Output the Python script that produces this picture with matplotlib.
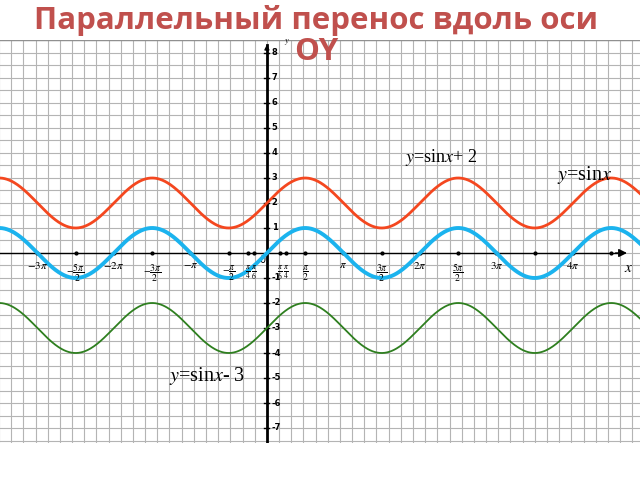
import numpy as np
import matplotlib
matplotlib.use('Agg')
import matplotlib.pyplot as plt

# vertical shifts of y = sin x
shifts = [2, 0, -3]
colors = ['#F4471F', '#1BB3EE', '#2E7F1F']
widths = [2.0, 2.8, 1.3]
curve_labels = [r'$y$=sin$x$+ 2', r'$y$=sin$x$', r'$y$=sin$x$- 3']
label_xy = [(7.15, 3.8), (13.05, 3.1), (-2.45, -4.93)]
label_size = [13, 14.5, 14.5]

pi = np.pi
xtick_pos = [-3*pi, -5*pi/2, -2*pi, -3*pi/2, -pi, -pi/2, -pi/4, -pi/6,
             pi/6, pi/4, pi/2, pi, 3*pi/2, 2*pi, 5*pi/2, 3*pi, 4*pi]
xtick_lab = [r'$-3\pi$', r'$-\dfrac{5\pi}{2}$', r'$-2\pi$', r'$-\dfrac{3\pi}{2}$',
             r'$-\pi$', r'$-\dfrac{\pi}{2}$', r'$\dfrac{\pi}{4}$', r'$\dfrac{\pi}{6}$',
             r'$\dfrac{\pi}{6}$', r'$\dfrac{\pi}{4}$', r'$\dfrac{\pi}{2}$', r'$\pi$',
             r'$\dfrac{3\pi}{2}$', r'$2\pi$', r'$\dfrac{5\pi}{2}$', r'$3\pi$', r'$4\pi$']
xdots = [7*pi/2, 9*pi/2]
ytick_pos = [8, 7, 6, 5, 4, 3, 2, 1, -1, -2, -3, -4, -5, -6, -7]

xmin, xmax = -10.96, 15.32
ymin, ymax = -7.6, 8.52

plt.rcParams['mathtext.fontset'] = 'stix'
fig = plt.figure(figsize=(6.4, 4.8), dpi=100)
ax = fig.add_axes([0, 37/480, 1, 403/480])
ax.set_xlim(xmin, xmax); ax.set_ylim(ymin, ymax)
for s in ax.spines.values(): s.set_visible(False)
ax.set_xticks([]); ax.set_yticks([])

# squared paper
for gx in np.arange(-11, 15.5, 0.5):
    ax.axvline(gx, color='#b4b4b4', lw=0.8, zorder=0)
for gy in np.arange(-7.5, 8.6, 0.5):
    ax.axhline(gy, color='#b4b4b4', lw=0.8, zorder=0)
ax.axhline(ymax - 0.02, color='#909090', lw=1.0, zorder=0)

# axes with arrows
ax.plot([xmin, 14.6], [0, 0], color='black', lw=1.0, zorder=2)
ax.annotate('', xy=(14.9, 0), xytext=(14.2, 0),
            arrowprops=dict(arrowstyle='-|>', color='black', lw=1, mutation_scale=12), zorder=3)
ax.plot([0, 0], [ymin, 8.3], color='black', lw=2.0, zorder=2)
ax.annotate('', xy=(0, 8.45), xytext=(0, 8.0),
            arrowprops=dict(arrowstyle='-|>', color='black', lw=1, mutation_scale=7), zorder=3)
ax.text(14.85, -0.6, r'$x$', fontsize=11, ha='center', va='center')
ax.text(0.8, 8.45, r'$y$', fontsize=6, ha='center', va='center')

x = np.linspace(xmin, xmax, 800)
for sh, c, w in zip(shifts, colors, widths):
    ax.plot(x, np.sin(x) + sh, color=c, lw=w, zorder=4)
for lab, (lx, ly), fs in zip(curve_labels, label_xy, label_size):
    ax.text(lx, ly, lab, fontsize=fs, family='Liberation Serif', ha='center', va='center', zorder=5)

small = {-pi/4, -pi/6, pi/6, pi/4}
for p, lab in zip(xtick_pos, xtick_lab):
    ax.plot(p, 0, 'o', color='black', ms=2, zorder=3)
    frac = 'frac' in lab
    fs = 5.5 if p in small else (7 if frac else 8)
    ax.text(p, -0.8 if frac else -0.5, lab, fontsize=fs,
            ha='center', va='center', zorder=5)
for p in xdots:
    ax.plot(p, 0, 'o', color='black', ms=2, zorder=3)
ax.text(-0.2, -0.3, '0', fontsize=7, ha='center', va='center')

for p in ytick_pos:
    ax.plot([-0.1, 0.1], [p, p], color='black', lw=1, zorder=3)
    ax.text(0.2, p, str(p), fontsize=6, fontweight='bold', ha='left', va='center', zorder=5)

fig.text(316/640, 1 - 5/480, 'Параллельный перенос вдоль оси\nOY', color='#C0504D',
         fontsize=22.5, fontweight='bold', family='Open Sans', ha='center', va='top',
         linespacing=1.05)

fig.savefig('out.png', dpi=100)
